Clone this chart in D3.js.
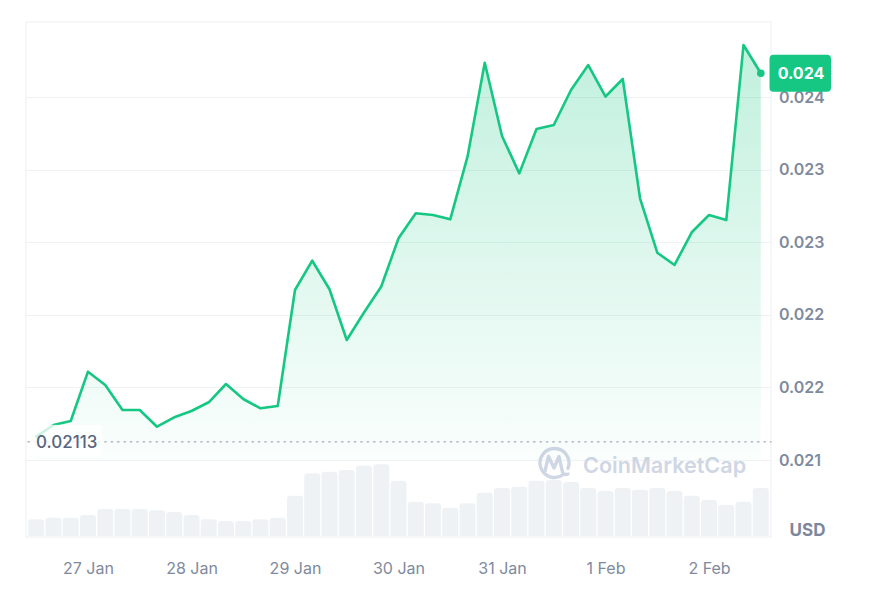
<!DOCTYPE html>
<html><head><meta charset="utf-8">
<script src="https://cdn.jsdelivr.net/npm/d3@7"></script>
<style>
html,body{margin:0;padding:0;background:#fff;}
svg{display:block;font-family:Inter,"Noto Sans",sans-serif;}
</style>
</head><body>
<svg id="chart" width="871" height="605"></svg>
<script>
// ---------- data ----------
const startTime = "2025-01-26T12:00:00";   // first sample
const stepHours = 4;                        // sampling interval
const prices = [
  0.021173, 0.021269, 0.021302, 0.021710, 0.021600, 0.021393, 0.021393, 0.021255,
  0.021333, 0.021385, 0.021457, 0.021608, 0.021484, 0.021407, 0.021426, 0.022385,
  0.022627, 0.022391, 0.021972, 0.022199, 0.022414, 0.022812, 0.023019, 0.023005,
  0.022969, 0.023487, 0.024263, 0.023658, 0.023349, 0.023715, 0.023749, 0.024038,
  0.024244, 0.023984, 0.024129, 0.023143, 0.022693, 0.022592, 0.022862, 0.023005,
  0.022963, 0.024410, 0.024176
];
const volumes = [ // thousand USD
  167, 183, 183, 210, 270, 270, 270, 257, 240, 210,
  167, 150, 150, 167, 183, 403, 627, 643, 660, 703,
  717, 553, 343, 327, 283, 327, 433, 480, 493, 553,
  560, 540, 480, 450, 480, 463, 480, 450, 403, 360,
  313, 343, 480
];
const yTickValues = [0.02098, 0.02158, 0.02218, 0.02278, 0.02338, 0.02398];
const xTickDates = ["2025-01-27","2025-01-28","2025-01-29","2025-01-30","2025-01-31","2025-02-01","2025-02-02"];
const xTickLabels = ["27 Jan","28 Jan","29 Jan","30 Jan","31 Jan","1 Feb","2 Feb"];
const baselinePrice = 0.02113;
const baselineLabel = "0.02113";
const lastPriceLabel = "0.024";
const currencyLabel = "USD";
const watermarkText = "CoinMarketCap";

// ---------- layout ----------
const W = 871, H = 605;
const frame = {left: 26, right: 771, top: 22, bottom: 537};
const priceBottom = 460, priceTopTick = 97;
const volTop = 456, volBottom = 536;
const green = "#16c784", grid = "#eff2f5", axisGrey = "#808a9d";

const t0 = new Date(startTime);
const times = prices.map((_, i) => d3.timeHour.offset(t0, i * stepHours));
const tickDates = xTickDates.map(s => new Date(s + "T00:00:00"));

const x = d3.scaleTime()
  .domain([d3.timeHour.offset(times[0], -stepHours/2), d3.timeHour.offset(times[times.length-1], stepHours/2)])
  .range([27.6, 769.4]);
const y = d3.scaleLinear().domain([yTickValues[0], yTickValues[yTickValues.length-1]]).range([priceBottom, priceTopTick]);
const yv = d3.scaleLinear().domain([0, 800]).range([volBottom, volTop]);

const svg = d3.select("#chart");
const defs = svg.append("defs");
const grad = defs.append("linearGradient").attr("id","areaGrad")
  .attr("gradientUnits","userSpaceOnUse").attr("x1",0).attr("x2",0).attr("y1",frame.top).attr("y2",priceBottom);
grad.append("stop").attr("offset","0%").attr("stop-color",green).attr("stop-opacity",0.28);
grad.append("stop").attr("offset","100%").attr("stop-color",green).attr("stop-opacity",0.02);

// frame
svg.append("rect").attr("x",frame.left).attr("y",frame.top)
  .attr("width",frame.right-frame.left).attr("height",frame.bottom-frame.top)
  .attr("fill","none").attr("stroke",grid).attr("stroke-width",1.2);

// gridlines
svg.append("g").selectAll("line").data(yTickValues).join("line")
  .attr("x1",frame.left).attr("x2",frame.right)
  .attr("y1",d=>Math.round(y(d))+0.5).attr("y2",d=>Math.round(y(d))+0.5)
  .attr("stroke",grid).attr("stroke-width",1.2);

// volume bars (rounded tops)
const bw = x(times[1]) - x(times[0]) - 1.2;
const r = 3;
svg.append("g").selectAll("path").data(volumes).join("path")
  .attr("fill","#eff2f5")
  .attr("d",(v,i)=>{
    const cx = x(times[i]), x0 = cx - bw/2, x1 = cx + bw/2, top = yv(v), b = yv(0);
    return `M${x0},${b}V${top+r}Q${x0},${top} ${x0+r},${top}H${x1-r}Q${x1},${top} ${x1},${top+r}V${b}Z`;
  });

// watermark
const wm = svg.append("g").attr("fill","none").attr("stroke","#cfd6e4").attr("stroke-width",3.4).attr("stroke-linecap","round").attr("stroke-linejoin","round");
wm.append("path").attr("transform","translate(554.5,463)")
  .attr("d", d3.arc()({innerRadius:14.5, outerRadius:14.5, startAngle: 2.5, endAngle: 2*Math.PI + 1.95}));
wm.append("path").attr("d","M545,471 L548.5,456.5 L554,468 L559,456.5 L562,470 Q563,476 568,474");
svg.append("text").attr("x",583).attr("y",473).attr("fill","#cfd6e4")
  .attr("font-size",21.6).attr("font-weight",600).text(watermarkText);

// area + line
const area = d3.area().x((d,i)=>x(times[i])).y0(priceBottom).y1(d=>y(d));
svg.append("path").datum(prices).attr("d",area).attr("fill","url(#areaGrad)");
const line = d3.line().x((d,i)=>x(times[i])).y(d=>y(d));
svg.append("path").datum(prices).attr("d",line).attr("fill","none")
  .attr("stroke",green).attr("stroke-width",2.6).attr("stroke-linejoin","round").attr("stroke-linecap","round");

// baseline
svg.append("line").attr("x1",frame.left+2).attr("x2",frame.right)
  .attr("y1",y(baselinePrice)).attr("y2",y(baselinePrice))
  .attr("stroke","#a1a7bb").attr("stroke-width",1.4).attr("stroke-dasharray","1.4 5").attr("stroke-linecap","round");
svg.append("rect").attr("x",31).attr("y",y(baselinePrice)-17).attr("width",71).attr("height",32)
  .attr("fill","#fff").attr("opacity",0.78);
svg.append("text").attr("x",36).attr("y",y(baselinePrice)).attr("dy","0.35em")
  .attr("fill","#58667e").attr("font-size",17).attr("font-weight",500).text(baselineLabel);

// last point
const lastI = prices.length-1;
svg.append("circle").attr("cx",x(times[lastI])).attr("cy",y(prices[lastI])).attr("r",3.8).attr("fill",green);

// y axis
const yAxis = d3.axisRight(y).tickValues(yTickValues).tickFormat(d3.format(".3f")).tickSize(0).tickPadding(8);
const gy = svg.append("g").attr("transform",`translate(${frame.right},0)`).call(yAxis);
gy.select(".domain").remove();
gy.selectAll("text").attr("fill",axisGrey).attr("font-size",16).attr("font-weight",600).attr("font-family","Inter");

// x axis
const xAxis = d3.axisBottom(x).tickValues(tickDates).tickFormat((d,i)=>xTickLabels[i]).tickSize(0).tickPadding(26);
const gx = svg.append("g").attr("transform",`translate(0,${frame.bottom})`).call(xAxis);
gx.select(".domain").remove();
gx.selectAll("text").attr("fill",axisGrey).attr("font-size",16).attr("font-weight",400).attr("font-family","Inter");

// USD
svg.append("text").attr("x",807.5).attr("y",530).attr("dy","0.35em").attr("text-anchor","middle")
  .attr("fill","#7d879c").attr("font-size",17).attr("font-weight",700).text(currencyLabel);

// price badge
const badge = svg.append("g").attr("transform",`translate(769.5,${y(prices[lastI])})`);
badge.append("rect").attr("x",0).attr("y",-18.5).attr("width",61.5).attr("height",37).attr("rx",4).attr("fill",green);
badge.append("text").attr("x",31.5).attr("y",0).attr("dy","0.36em").attr("text-anchor","middle")
  .attr("fill","#fff").attr("font-size",16).attr("font-weight",700).text(lastPriceLabel);
</script>
</body></html>
